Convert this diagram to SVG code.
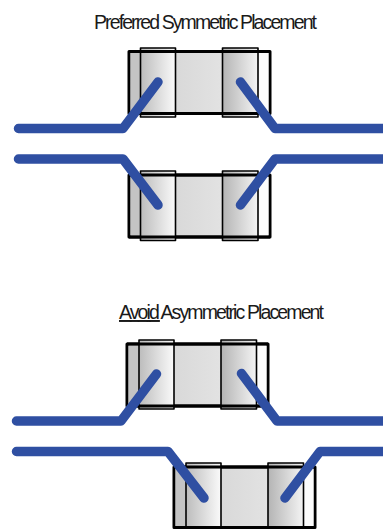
<svg xmlns="http://www.w3.org/2000/svg" width="383" height="529" viewBox="0 0 383 529">
<style>
text{font-family:"Liberation Sans",Arial,sans-serif;font-size:19.500px;fill:#1a1a1a}
.body{fill:url(#bodyGrad);stroke:#000;stroke-width:3;stroke-linejoin:round}
.pad{stroke:#000;stroke-width:1.6;stroke-linejoin:round}
.pl{fill:url(#padL)}
.pr{fill:url(#padR)}
.edgeL{fill:#c4c4c4}
.edgeR{fill:#fcfcfc}
.trace{fill:none;stroke:#2f4fa2;stroke-width:9.500;stroke-linecap:round;stroke-linejoin:round}
</style>
<defs>
<linearGradient id="bodyGrad"><stop offset="0" stop-color="#cfcfcf"/><stop offset="1" stop-color="#ececec"/></linearGradient>
<linearGradient id="padL"><stop offset="0" stop-color="#bcbcbc"/><stop offset="1" stop-color="#fafafa"/></linearGradient>
<linearGradient id="padR"><stop offset="0" stop-color="#b4b4b4"/><stop offset="1" stop-color="#f4f4f4"/></linearGradient>
</defs>
<rect width="383" height="529" fill="#fff"/>
<text id="title-preferred" x="94" y="29" textLength="223" lengthAdjust="spacing">Preferred Symmetric Placement</text>
<text id="title-avoid" x="119" y="319" textLength="205" lengthAdjust="spacing"><tspan text-decoration="underline">Avoid</tspan> Asymmetric Placement</text>
<g id="part-1">
<rect class="body" x="129" y="51.500" width="141" height="62"/>
<rect class="edgeL" x="130.500" y="53" width="10" height="59"/>
<rect class="edgeR" x="258" y="53" width="10.500" height="59"/>
<rect class="pad pl" x="140.500" y="48" width="35" height="69"/>
<rect class="pad pr" x="222.500" y="48" width="35.500" height="69"/>
<path d="M129 51.500H270M129 113.500H270" stroke="#000" stroke-width="3" fill="none"/>
</g>
<g id="part-2">
<rect class="body" x="129" y="175" width="141" height="62"/>
<rect class="edgeL" x="130.500" y="176.500" width="10" height="59"/>
<rect class="edgeR" x="258" y="176.500" width="10.500" height="59"/>
<rect class="pad pl" x="140.500" y="171" width="35" height="69.500"/>
<rect class="pad pr" x="222.500" y="171" width="35.500" height="69.500"/>
<path d="M129 175H270M129 237H270" stroke="#000" stroke-width="3" fill="none"/>
</g>
<g id="part-3">
<rect class="body" x="127" y="344" width="141" height="62"/>
<rect class="edgeL" x="128.500" y="345.500" width="10" height="59"/>
<rect class="edgeR" x="256" y="345.500" width="10.500" height="59"/>
<rect class="pad pl" x="139" y="340" width="35" height="69"/>
<rect class="pad pr" x="221" y="340" width="35.500" height="69"/>
<path d="M127 344H268M127 406H268" stroke="#000" stroke-width="3" fill="none"/>
</g>
<g id="part-4">
<rect class="body" x="174" y="467" width="141" height="60.500"/>
<rect class="edgeL" x="175.500" y="468.500" width="10" height="57.500"/>
<rect class="edgeR" x="303.500" y="468.500" width="10" height="57.500"/>
<rect class="pad pl" x="186" y="463" width="35" height="72"/>
<rect class="pad pr" x="268" y="463" width="35.500" height="72"/>
<path d="M174 467H315M174 527.500H315" stroke="#000" stroke-width="3" fill="none"/>
</g>
<g id="connectors">
<path class="trace" d="M18.500 128.500H123L158 82"/>
<path class="trace" d="M240.500 82L275 128.500H383"/>
<path class="trace" d="M18.500 159H123L158 205"/>
<path class="trace" d="M240.500 205L275 159H383"/>
<path class="trace" d="M16.500 421H121L156.500 374"/>
<path class="trace" d="M241.500 373.500L277 421H383"/>
<path class="trace" d="M16.500 451.500H168L204 498"/>
<path class="trace" d="M285 498L320 451.500H383"/>
</g>
</svg>
